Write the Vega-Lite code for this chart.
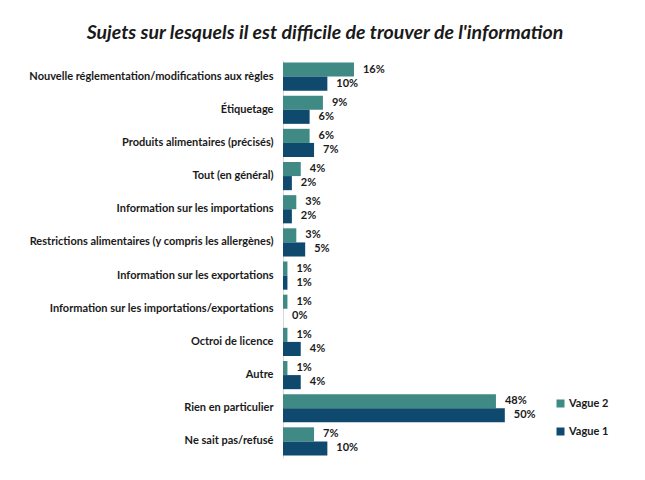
{
  "$schema": "https://vega.github.io/schema/vega-lite/v6.json",
  "width": 244,
  "height": 398,
  "autosize": {"type": "none"},
  "padding": {"left": 283, "top": 60, "right": 118, "bottom": 22},
  "background": "white",
  "title": {
    "text": "Sujets sur lesquels il est difficile de trouver de l'information",
    "font": "Lato",
    "fontSize": 19.5,
    "fontStyle": "italic",
    "fontWeight": "bold",
    "color": "#1a1a1a",
    "anchor": "middle",
    "dx": -80,
    "offset": 17
  },
  "data": {
    "values": [
      {"cat": "Nouvelle réglementation/modifications aux règles", "vague": "Vague 2", "v": 0.16},
      {"cat": "Nouvelle réglementation/modifications aux règles", "vague": "Vague 1", "v": 0.10},
      {"cat": "Étiquetage", "vague": "Vague 2", "v": 0.09},
      {"cat": "Étiquetage", "vague": "Vague 1", "v": 0.06},
      {"cat": "Produits alimentaires (précisés)", "vague": "Vague 2", "v": 0.06},
      {"cat": "Produits alimentaires (précisés)", "vague": "Vague 1", "v": 0.07},
      {"cat": "Tout (en général)", "vague": "Vague 2", "v": 0.04},
      {"cat": "Tout (en général)", "vague": "Vague 1", "v": 0.02},
      {"cat": "Information sur les importations", "vague": "Vague 2", "v": 0.03},
      {"cat": "Information sur les importations", "vague": "Vague 1", "v": 0.02},
      {"cat": "Restrictions alimentaires (y compris les allergènes)", "vague": "Vague 2", "v": 0.03},
      {"cat": "Restrictions alimentaires (y compris les allergènes)", "vague": "Vague 1", "v": 0.05},
      {"cat": "Information sur les exportations", "vague": "Vague 2", "v": 0.01},
      {"cat": "Information sur les exportations", "vague": "Vague 1", "v": 0.01},
      {"cat": "Information sur les importations/exportations", "vague": "Vague 2", "v": 0.01},
      {"cat": "Information sur les importations/exportations", "vague": "Vague 1", "v": 0.0},
      {"cat": "Octroi de licence", "vague": "Vague 2", "v": 0.01},
      {"cat": "Octroi de licence", "vague": "Vague 1", "v": 0.04},
      {"cat": "Autre", "vague": "Vague 2", "v": 0.01},
      {"cat": "Autre", "vague": "Vague 1", "v": 0.04},
      {"cat": "Rien en particulier", "vague": "Vague 2", "v": 0.48},
      {"cat": "Rien en particulier", "vague": "Vague 1", "v": 0.50},
      {"cat": "Ne sait pas/refusé", "vague": "Vague 2", "v": 0.07},
      {"cat": "Ne sait pas/refusé", "vague": "Vague 1", "v": 0.10}
    ]
  },
  "encoding": {
    "y": {
      "field": "cat",
      "type": "nominal",
      "sort": null,
      "scale": {"paddingInner": 0.15, "paddingOuter": 0.075},
      "axis": {
        "title": null,
        "ticks": false,
        "domainColor": "#d9d9d9",
        "labelFont": "Lato",
        "labelFontSize": 11,
        "labelFontWeight": "bold",
        "labelColor": "#1a1a1a",
        "labelPadding": 10,
        "labelLimit": 300
      }
    },
    "yOffset": {
      "field": "vague",
      "type": "nominal",
      "scale": {"domain": ["Vague 2", "Vague 1"], "paddingInner": 0, "paddingOuter": 0}
    },
    "x": {
      "field": "v",
      "type": "quantitative",
      "scale": {"domain": [0, 0.55], "nice": false},
      "axis": null
    }
  },
  "layer": [
    {
      "mark": {"type": "bar"},
      "encoding": {
        "color": {
          "field": "vague",
          "type": "nominal",
          "scale": {"domain": ["Vague 2", "Vague 1"], "range": ["#3f8a84", "#0f4a6e"]},
          "legend": {
            "title": null,
            "orient": "none",
            "legendX": 272,
            "legendY": 338,
            "symbolType": "square",
            "symbolSize": 64,
            "symbolStrokeWidth": 0,
            "rowPadding": 16,
            "labelFont": "Lato",
            "labelFontSize": 11,
            "labelFontWeight": "bold",
            "labelColor": "#1a1a1a",
            "labelOffset": 3
          }
        }
      }
    },
    {
      "mark": {"type": "text", "align": "left", "dx": 9, "font": "Lato", "fontSize": 11, "fontWeight": "bold", "color": "#1a1a1a"},
      "encoding": {
        "text": {"field": "v", "type": "quantitative", "format": ".0%"}
      }
    }
  ],
  "config": {
    "view": {"stroke": null}
  }
}
